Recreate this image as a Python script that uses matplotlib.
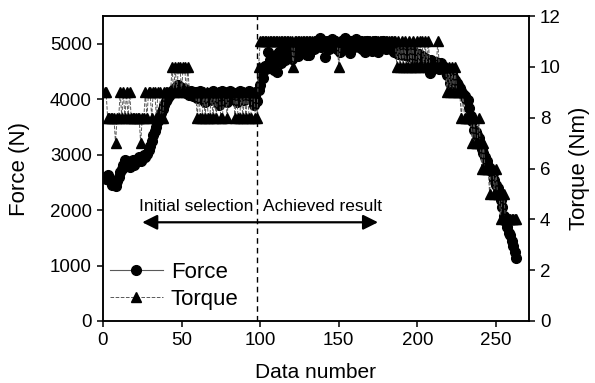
import numpy as np
import matplotlib.pyplot as plt

plt.rcParams['font.family'] = ['Liberation Sans', 'DejaVu Sans']

# ------ data -------------------------------------------------------------------
force = [2600, 2560, 2640, 2580, 2500, 2450, 2480, 2430, 2520, 2600,
         2680, 2750, 2820, 2900, 2880, 2800, 2780, 2850, 2900, 2820,
         2870, 2920, 2950, 2880, 2930, 3000, 2960, 3020, 3090, 3150,
         3250, 3350, 3430, 3500, 3600, 3680, 3750, 3820, 3900, 3960,
         4010, 4060, 4110, 4150, 4180, 4200, 4230, 4250, 4220, 4200,
         4150, 4180, 4110, 4120, 4080, 4150, 4050, 4100, 4130, 4020,
         4080, 4150, 4000, 4100, 3950, 4050, 4120, 3980, 4060, 4150,
         4000, 4080, 4120, 3900, 4050, 4150, 4000, 4100, 3950, 4080,
         4150, 4050, 4000, 4120, 3950, 4080, 4150, 4020, 4100, 3980,
         4120, 4050, 4150, 4000, 4100, 3900, 4050, 3960, 4170, 4250,
         4400, 4380, 4600, 4550, 4860, 4700, 4750, 4650, 4530, 4800,
         4500, 4850, 4660, 4900, 4750, 4700, 4880, 4800, 4950, 4720,
         4850, 4860, 4950, 4780, 4900, 5000, 4850, 4960, 4900, 4800,
         4800, 4950, 5020, 4900, 4930, 5050, 4980, 5100, 4950, 5000,
         4770, 4950, 5050, 4900, 5000, 5080, 4950, 5030, 4900, 5000,
         4850, 5050, 4950, 5100, 5000, 4900, 4840, 5050, 5000, 4950,
         5080, 5000, 4950, 5050, 4900, 5000, 4860, 5050, 4950, 5000,
         4870, 5000, 5050, 4950, 4860, 5000, 4950, 5050, 4980, 4900,
         5000, 4950, 4900, 4980, 4850, 4900, 4950, 4820, 4900, 4850,
         4800, 4900, 4850, 4780, 4880, 4800, 4750, 4850, 4800, 4750,
         4820, 4700, 4780, 4650, 4750, 4700, 4620, 4470, 4700, 4650,
         4600, 4680, 4620, 4550, 4650, 4600, 4580, 4500, 4440, 4550,
         4290, 4450, 4400, 4350, 4300, 4250, 4200, 4150, 4100, 4050,
         4000, 3990, 3850, 3700, 3600, 3450, 3400, 3350, 3300, 3200,
         3100, 3030, 2950, 2880, 2800, 2750, 2700, 2670, 2550, 2450,
         2400, 2300, 2180, 2050, 1900, 1800, 1700, 1590, 1550, 1450,
         1350, 1250, 1140]

torque = [9, 9, 8, 8, 8, 8, 8, 7, 8, 8,
          9, 8, 9, 8, 9, 8, 9, 8, 8, 8,
          8, 8, 8, 7, 8, 8, 9, 8, 9, 9,
          8, 9, 9, 8, 9, 9, 8, 8, 9, 9,
          9, 9, 9, 10, 9, 10, 9, 10, 10, 9,
          10, 10, 9, 10, 9, 9, 9, 9, 9, 8,
          9, 8, 8, 9, 8, 9, 8, 8, 9, 8,
          9, 8, 9, 9, 8, 8, 9, 9, 8, 9,
          9, 9, 9, 8, 9, 8, 8, 9, 8, 9,
          8, 9, 8, 8, 9, 9, 8, 8, 10, 11,
          11, 11, 11, 11, 11, 11, 11, 11, 11, 11,
          11, 11, 11, 11, 11, 11, 11, 11, 11, 11,
          10, 11, 11, 11, 11, 11, 11, 11, 11, 11,
          11, 11, 11, 11, 11, 11, 11, 11, 11, 11,
          11, 11, 11, 11, 11, 11, 11, 11, 11, 10,
          11, 11, 11, 11, 11, 11, 11, 11, 11, 11,
          11, 11, 11, 11, 11, 11, 11, 11, 11, 11,
          11, 11, 11, 11, 11, 11, 11, 11, 11, 11,
          11, 11, 11, 11, 11, 11, 10, 11, 10, 11,
          10, 11, 10, 10, 11, 10, 11, 10, 10, 11,
          10, 11, 11, 10, 11, 10, 11, 10, 10, 10,
          10, 10, 11, 10, 10, 10, 10, 10, 9, 10,
          9, 10, 9, 10, 9, 9, 9, 8, 9, 8,
          8, 8, 8, 8, 7, 8, 7, 7, 8, 7,
          6, 7, 6, 6, 6, 5, 6, 6, 5, 6,
          5, 5, 4, 5, 5, 4, 4, 4, 4, 4,
          4, 4, 4]

data_number = np.arange(1, len(force) + 1)

split_at = 98
arrow_from = 25
arrow_to = 175
arrow_level = 1780

# ------ figure ---------------------------------------------------------------------
fig = plt.figure(figsize=(5.95, 3.83), dpi=100)
ax = fig.add_axes([0.173, 0.162, 0.716, 0.796])
ax2 = ax.twinx()

l1, = ax.plot(data_number, force, '-', color='0.35', lw=0.8,
              marker='o', ms=7, mfc='k', mec='k', label='Force')
l2, = ax2.plot(data_number, torque, '--', color='0.35', lw=0.7,
               marker='^', ms=7, mfc='k', mec='k', label='Torque')

ax.axvline(split_at, color='k', ls=(0, (4, 3)), lw=1.0)

ax.annotate('', xy=(arrow_from, arrow_level), xytext=(arrow_to, arrow_level),
            arrowprops=dict(arrowstyle='<|-|>,head_length=0.9,head_width=0.45',
                            color='k', lw=1.6, shrinkA=0, shrinkB=0))
ax.text(split_at - 2.5, 2060, 'Initial selection', ha='right', va='center', fontsize=12.5)
ax.text(split_at + 4, 2060, 'Achieved result', ha='left', va='center', fontsize=12.5)

ax.set_xlim(0, 271)
ax.set_ylim(0, 5500)
ax2.set_ylim(0, 12)
ax.set_xticks(np.arange(0, 251, 50))
ax.set_yticks(np.arange(0, 5001, 1000))
ax2.set_yticks(np.arange(0, 13, 2))

for a in (ax, ax2):
    a.tick_params(labelsize=13.5, width=1.1, length=4, direction='out', pad=4)
    for s in a.spines.values():
        s.set_linewidth(1.1)

ax.set_xlabel('Data number', fontsize=15, labelpad=10)
ax.set_ylabel('Force (N)', fontsize=16, labelpad=14)
ax2.set_ylabel('Torque (Nm)', fontsize=16, labelpad=6)

ax.legend(handles=[l1, l2], loc='lower left', bbox_to_anchor=(0.0, 0.015),
          frameon=False, fontsize=16, handlelength=2.4, handletextpad=0.35,
          labelspacing=0.25, borderpad=0.2, borderaxespad=0.1)

plt.savefig('out.png', dpi=100)
plt.close()
